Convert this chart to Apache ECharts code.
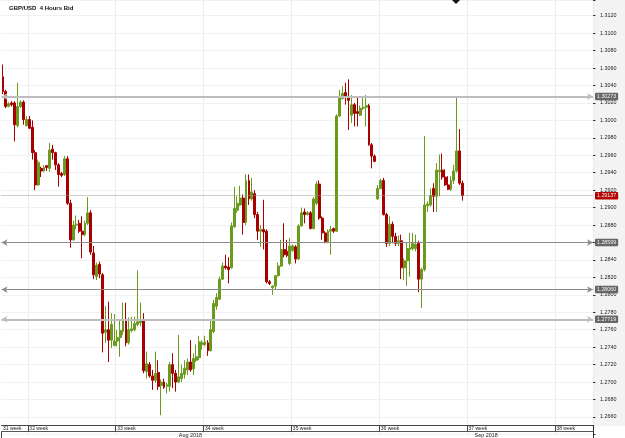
<!DOCTYPE html>
<html><head><meta charset="utf-8">
<script src="https://cdn.jsdelivr.net/npm/echarts@6/dist/echarts.min.js"></script>
<style>html,body{margin:0;padding:0;background:#fff}#c{width:625px;height:438px}</style>
</head><body><div id="c"></div>
<script>
// ---- data ----
const chartTitle = 'GBP/USD  4 Hours Bid';
// [open, close, low, high] per 4-hour candle
const candles = [
[1.3050,1.3033,1.3030,1.3064],[1.3033,1.3016,1.3014,1.3035],[1.3016,1.3019,1.3015,1.3021],[1.3020,1.3018,1.3016,1.3022],
[1.3020,1.2995,1.2976,1.3022],[1.2994,1.3016,1.2992,1.3043],[1.3016,1.3021,1.3014,1.3023],[1.3021,1.3001,1.2995,1.3023],
[1.2994,1.3001,1.2993,1.3005],[1.3001,1.2991,1.2990,1.3005],[1.2992,1.2963,1.2955,1.3000],[1.2963,1.2926,1.2920,1.2966],
[1.2926,1.2952,1.2925,1.2955],[1.2945,1.2942,1.2935,1.2947],[1.2942,1.2946,1.2941,1.2949],[1.2948,1.2946,1.2942,1.2949],
[1.2945,1.2966,1.2941,1.2974],[1.2967,1.2963,1.2955,1.2972],[1.2963,1.2949,1.2943,1.2964],[1.2949,1.2938,1.2924,1.2951],
[1.2939,1.2937,1.2935,1.2941],[1.2938,1.2956,1.2936,1.2959],[1.2956,1.2905,1.2903,1.2959],[1.2905,1.2863,1.2854,1.2909],
[1.2863,1.2880,1.2862,1.2885],[1.2880,1.2881,1.2875,1.2891],[1.2882,1.2873,1.2871,1.2886],[1.2873,1.2869,1.2842,1.2890],
[1.2869,1.2882,1.2867,1.2885],[1.2882,1.2894,1.2880,1.2912],[1.2894,1.2849,1.2846,1.2897],[1.2848,1.2823,1.2818,1.2856],
[1.2821,1.2834,1.2817,1.2837],[1.2835,1.2824,1.2819,1.2838],[1.2823,1.2756,1.2734,1.2825],[1.2757,1.2760,1.2745,1.2787],
[1.2760,1.2748,1.2723,1.2792],[1.2748,1.2766,1.2739,1.2779],[1.2742,1.2747,1.2741,1.2778],[1.2747,1.2751,1.2741,1.2760],
[1.2751,1.2759,1.2729,1.2771],[1.2758,1.2771,1.2754,1.2791],[1.2772,1.2745,1.2741,1.2791],[1.2745,1.2760,1.2743,1.2774],
[1.2759,1.2761,1.2757,1.2775],[1.2760,1.2767,1.2758,1.2775],[1.2766,1.2769,1.2764,1.2828],[1.2768,1.2771,1.2764,1.2791],
[1.2771,1.2713,1.2710,1.2779],[1.2712,1.2721,1.2704,1.2735],[1.2720,1.2707,1.2705,1.2723],[1.2707,1.2702,1.2691,1.2714],
[1.2702,1.2710,1.2699,1.2735],[1.2711,1.2695,1.2691,1.2725],[1.2696,1.2700,1.2662,1.2703],[1.2700,1.2694,1.2692,1.2704],
[1.2695,1.2697,1.2687,1.2699],[1.2695,1.2720,1.2689,1.2723],[1.2720,1.2710,1.2693,1.2733],[1.2710,1.2700,1.2689,1.2714],
[1.2700,1.2706,1.2699,1.2754],[1.2704,1.2710,1.2700,1.2720],[1.2709,1.2716,1.2704,1.2725],[1.2714,1.2723,1.2708,1.2727],
[1.2723,1.2714,1.2712,1.2748],[1.2715,1.2727,1.2708,1.2733],[1.2725,1.2729,1.2723,1.2743],[1.2728,1.2746,1.2725,1.2753],
[1.2743,1.2745,1.2737,1.2748],[1.2743,1.2746,1.2741,1.2753],[1.2745,1.2736,1.2730,1.2748],[1.2736,1.2760,1.2735,1.2772],
[1.2758,1.2790,1.2756,1.2794],[1.2787,1.2797,1.2783,1.2802],[1.2795,1.2818,1.2794,1.2821],[1.2818,1.2833,1.2817,1.2837],
[1.2833,1.2831,1.2829,1.2846],[1.2832,1.2829,1.2813,1.2843],[1.2831,1.2879,1.2830,1.2883],[1.2878,1.2899,1.2877,1.2924],
[1.2897,1.2905,1.2894,1.2913],[1.2903,1.2911,1.2902,1.2925],[1.2911,1.2883,1.2869,1.2915],[1.2883,1.2931,1.2880,1.2938],
[1.2931,1.2910,1.2903,1.2938],[1.2910,1.2918,1.2908,1.2934],[1.2916,1.2892,1.2888,1.2920],[1.2892,1.2873,1.2863,1.2895],
[1.2873,1.2875,1.2855,1.2880],[1.2875,1.2872,1.2852,1.2909],[1.2873,1.2815,1.2813,1.2875],[1.2815,1.2813,1.2811,1.2817],
[1.2808,1.2810,1.2800,1.2811],[1.2810,1.2822,1.2806,1.2823],[1.2822,1.2833,1.2821,1.2837],[1.2833,1.2852,1.2832,1.2863],
[1.2852,1.2846,1.2843,1.2882],[1.2850,1.2845,1.2843,1.2863],[1.2836,1.2856,1.2834,1.2865],[1.2851,1.2856,1.2849,1.2858],
[1.2855,1.2841,1.2836,1.2857],[1.2841,1.2879,1.2840,1.2881],[1.2879,1.2894,1.2878,1.2900],[1.2895,1.2892,1.2882,1.2899],
[1.2892,1.2894,1.2891,1.2896],[1.2894,1.2876,1.2875,1.2896],[1.2876,1.2910,1.2875,1.2912],[1.2905,1.2927,1.2903,1.2930],
[1.2927,1.2888,1.2886,1.2931],[1.2888,1.2871,1.2863,1.2890],[1.2871,1.2861,1.2859,1.2873],[1.2861,1.2873,1.2859,1.2875],
[1.2873,1.2875,1.2846,1.2879],[1.2876,1.2873,1.2871,1.2877],[1.2873,1.3005,1.2872,1.3007],[1.3005,1.3026,1.3004,1.3035],
[1.3025,1.3031,1.3024,1.3039],[1.3032,1.3027,1.3018,1.3043],[1.3027,1.3023,1.2989,1.3047],[1.3006,1.3018,1.2997,1.3029],
[1.3018,1.3008,1.2993,1.3020],[1.3010,1.3008,1.2993,1.3026],[1.3006,1.3014,1.3005,1.3017],[1.3014,1.3015,1.3012,1.3026],
[1.3015,1.3017,1.2993,1.3029],[1.3017,1.2972,1.2971,1.3019],[1.2972,1.2959,1.2945,1.2974],[1.2959,1.2953,1.2952,1.2961],
[1.2910,1.2922,1.2909,1.2926],[1.2922,1.2931,1.2921,1.2933],[1.2931,1.2892,1.2891,1.2934],[1.2892,1.2859,1.2855,1.2894],
[1.2859,1.2881,1.2856,1.2890],[1.2881,1.2867,1.2859,1.2884],[1.2867,1.2859,1.2856,1.2871],[1.2859,1.2862,1.2856,1.2868],
[1.2862,1.2831,1.2818,1.2869],[1.2831,1.2839,1.2817,1.2842],[1.2839,1.2853,1.2810,1.2860],[1.2852,1.2854,1.2821,1.2871],
[1.2853,1.2859,1.2851,1.2871],[1.2853,1.2858,1.2850,1.2869],[1.2859,1.2818,1.2803,1.2862],[1.2818,1.2829,1.2785,1.2831],
[1.2829,1.2903,1.2827,1.2982],[1.2902,1.2904,1.2895,1.2907],[1.2903,1.2914,1.2901,1.2922],[1.2922,1.2913,1.2895,1.2928],
[1.2913,1.2943,1.2895,1.2951],[1.2941,1.2943,1.2913,1.2961],[1.2943,1.2935,1.2932,1.2962],[1.2935,1.2926,1.2925,1.2944],
[1.2926,1.2921,1.2920,1.2936],[1.2921,1.2931,1.2919,1.2936],[1.2931,1.2942,1.2927,1.2949],[1.2942,1.2965,1.2940,1.3028],
[1.2965,1.2928,1.2926,1.2990],[1.2928,1.29137,1.2908,1.2931]
];
const slotCount = 202;                       // 4-hour slots across the visible window
const weekNames = ['31 week','32 week','33 week','34 week','35 week','36 week','37 week','38 week'];
const weekStartSlots = [0, 9, 39, 69, 99, 129, 159, 189];   // first entry: partial week at left edge
const monthNames = ['Aug 2018', 'Sep 2018'];
const monthStartSlots = [0, 128];
const levels = [1.30273, 1.28599, 1.28060, 1.27719];
const lastBid = 1.29137;
const yTicks = {min: 1.2640, max: 1.3138, step: 0.002};

// ---- build ----
const cats = Array.from({length: slotCount}, (_, i) => 's' + i);
const weekLabelAt = {};
weekStartSlots.forEach((s, i) => weekLabelAt[s] = weekNames[i]);
const monthLabelAt = {};
monthStartSlots.forEach((s, i) => {
  const end = i + 1 < monthStartSlots.length ? monthStartSlots[i + 1] : slotCount;
  monthLabelAt[Math.floor((s + end) / 2)] = monthNames[i];
});
const isWeekBoundary = (idx) => idx > 0 && weekLabelAt[idx] !== undefined;
const isMonthBoundary = (idx) => idx > 0 && monthStartSlots.indexOf(idx) >= 0;

const FONT = 'Liberation Sans';
const GRID_H = 434.4;
const chart = echarts.init(document.getElementById('c'), null, {renderer: 'canvas'});
chart.setOption({
  animation: false,
  backgroundColor: '#ffffff',
  title: {text: chartTitle, left: 9, top: 5, padding: 0,
    textStyle: {fontSize: 6, fontWeight: 'bold', color: '#111', fontFamily: FONT}},
  graphic: [
    {type: 'rect', z: -5, shape: {x: 593, y: 0, width: 32, height: 426}, style: {fill: '#f3f3f3'}},
    {type: 'line', z: 50, shape: {x1: 593.5, y1: 425, x2: 593.5, y2: 438}, style: {stroke: '#333', lineWidth: 1}},
    {type: 'polygon', z: 50, shape: {points: [[452, 0], [460, 0], [456, 4]]}, style: {fill: '#111'}}
  ],
  grid: {left: 0, right: 32, top: 0, height: GRID_H, containLabel: false},
  xAxis: [
    {type: 'category', data: cats, boundaryGap: true,
      axisLine: {show: false}, axisTick: {show: false}, axisLabel: {show: false},
      splitLine: {show: true, interval: (i) => isWeekBoundary(i), lineStyle: {color: '#eeeeee', width: 1}}},
    {type: 'category', data: cats, boundaryGap: true, position: 'bottom', offset: -9.4,
      axisLine: {show: true, lineStyle: {color: '#444', width: 1}},
      axisTick: {show: true, length: 7, interval: (i) => isWeekBoundary(i), lineStyle: {color: '#444'}},
      axisLabel: {show: true, interval: (i) => weekLabelAt[i] !== undefined, align: 'left', margin: 1.5,
        formatter: (v, i) => weekLabelAt[i] || '', fontSize: 5, color: '#222', fontFamily: FONT},
      splitLine: {show: false}},
    {type: 'category', data: cats, boundaryGap: true, position: 'bottom', offset: -2.7,
      axisLine: {show: true, lineStyle: {color: '#555', width: 1}},
      axisTick: {show: true, length: 7, interval: (i) => isMonthBoundary(i), lineStyle: {color: '#444'}},
      axisLabel: {show: true, interval: (i) => monthLabelAt[i] !== undefined, align: 'center', margin: 1,
        formatter: (v, i) => monthLabelAt[i] || '', fontSize: 5.4, color: '#222', fontFamily: FONT},
      splitLine: {show: false}}
  ],
  yAxis: {
    type: 'value', position: 'right', min: yTicks.min, max: yTicks.max, interval: yTicks.step, scale: true,
    axisLine: {show: false},
    axisTick: {show: true, length: 2.5, inside: false, lineStyle: {color: '#333'}},
    axisLabel: {margin: 7, fontSize: 5.4, color: '#222', fontFamily: FONT,
      formatter: (v) => {
        const k = Math.round(v / yTicks.step);
        if (Math.abs(k * yTicks.step - v) > 1e-7 || v < 1.265) return '';
        return v.toFixed(4);
      }},
    splitLine: {show: true, lineStyle: {color: '#f1f1f1', width: 1}}
  },
  series: [
    {type: 'candlestick', xAxisIndex: 0, data: candles, barWidth: 2.4, barMinWidth: 2,
      itemStyle: {color: '#6b9b1e', color0: '#a60000', borderColor: '#6b9b1e', borderColor0: '#a60000', borderWidth: 1},
      markLine: {silent: true, animation: false, precision: 5, symbol: ['arrow', 'arrow'], symbolSize: [5, 6],
        data: levels.map((v, i) => ({
          yAxis: v,
          lineStyle: {type: 'solid', color: (i === 0 || i === 3) ? '#bdbdbd' : '#8c8c8c', width: (i === 0 || i === 3) ? 2 : 1.2},
          label: {show: true, position: 'end', distance: 2, formatter: () => v.toFixed(5),
            fontSize: 5.3, fontFamily: FONT, color: '#f4f4f4', backgroundColor: '#666', padding: [1.5, 2, 1, 2], borderRadius: 1}
        }))}},
    {type: 'line', xAxisIndex: 0, data: [],
      markLine: {silent: true, animation: false, precision: 5, symbol: ['none', 'none'],
        data: [{yAxis: lastBid,
          lineStyle: {type: 'dotted', color: '#9a9a9a', width: 1},
          label: {show: true, position: 'end', distance: 2, formatter: () => lastBid.toFixed(5),
            fontSize: 5.3, fontFamily: FONT, color: '#f4f4f4', backgroundColor: '#b30000', padding: [1.5, 2, 1, 2], borderRadius: 1}}]}}
  ]
});
</script></body></html>
